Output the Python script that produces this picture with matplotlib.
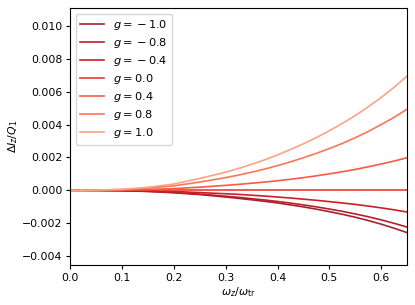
import numpy as np
import matplotlib
matplotlib.use("Agg")
import matplotlib.pyplot as plt

# omega_z / omega_tr sample points
x = [0.00, 0.05, 0.10, 0.15, 0.20, 0.25, 0.30, 0.325, 0.35, 0.375, 0.40, 0.425,
     0.45, 0.475, 0.50, 0.525, 0.55, 0.575, 0.60, 0.625, 0.65]

g_values = [-1.0, -0.8, -0.4, 0.0, 0.4, 0.8, 1.0]

dI_m10 = [0, -0.00001, -0.00003, -0.00007, -0.00015, -0.00026, -0.00041, -0.00049,
          -0.00058, -0.00067, -0.00077, -0.00089, -0.00101, -0.00115, -0.00130,
          -0.00146, -0.00164, -0.00184, -0.00206, -0.00231, -0.00258]
dI_m08 = [0, -0.00001, -0.00002, -0.00006, -0.00013, -0.00023, -0.00036, -0.00043,
          -0.00051, -0.00059, -0.00068, -0.00078, -0.00089, -0.00101, -0.00114,
          -0.00128, -0.00144, -0.00161, -0.00180, -0.00201, -0.00224]
dI_m04 = [0, 0.0, -0.00001, -0.00003, -0.00007, -0.00014, -0.00021, -0.00025,
          -0.00030, -0.00035, -0.00041, -0.00047, -0.00054, -0.00061, -0.00069,
          -0.00077, -0.00086, -0.00096, -0.00107, -0.00119, -0.00132]
dI_p00 = [0] * 21
dI_p04 = [0, 0.0, 0.00002, 0.00005, 0.00010, 0.00019, 0.00030, 0.00036,
          0.00043, 0.00050, 0.00058, 0.00067, 0.00077, 0.00088, 0.00100,
          0.00113, 0.00127, 0.00143, 0.00160, 0.00178, 0.00198]
dI_p08 = [0, 0.00001, 0.00004, 0.00013, 0.00027, 0.00050, 0.00077, 0.00093,
          0.00110, 0.00129, 0.00150, 0.00173, 0.00198, 0.00225, 0.00254,
          0.00285, 0.00320, 0.00358, 0.00400, 0.00444, 0.00494]
dI_p10 = [0, 0.00001, 0.00006, 0.00018, 0.00038, 0.00072, 0.00110, 0.00133,
          0.00158, 0.00185, 0.00215, 0.00248, 0.00283, 0.00321, 0.00362,
          0.00407, 0.00455, 0.00508, 0.00565, 0.00627, 0.00695]

series = [dI_m10, dI_m08, dI_m04, dI_p00, dI_p04, dI_p08, dI_p10]
colors = ["#a8212e", "#b81f2a", "#cc1f26", "#ec3b35", "#f75a45", "#fb7658", "#fca385"]


def g_label(g):
    # the empty group makes mathtext space the minus like a binary operator
    if g < 0:
        return f"$g = {{}}-{abs(g)}$"
    return f"$g = {g}$"


fig = plt.figure(figsize=(4.15, 3.05), dpi=100)
ax = fig.add_axes([0.169, 0.131, 0.812, 0.843])

for g, y, c in zip(g_values, series, colors):
    ax.plot(x, y, color=c, lw=1.2, label=g_label(g))

ax.set_xlim(0, 0.65)
ax.set_ylim(-0.00455, 0.0111)
ax.set_xticks([0.0, 0.1, 0.2, 0.3, 0.4, 0.5, 0.6])
ax.set_yticks([-0.004, -0.002, 0.0, 0.002, 0.004, 0.006, 0.008, 0.010])
ax.tick_params(labelsize=7.8, length=3, pad=2.5)
ax.set_xlabel(r"$\omega_z/\omega_{\rm tr}$", fontsize=7.8, labelpad=2)
ax.set_ylabel(r"$\Delta I_z/Q_1$", fontsize=7.8, labelpad=1.5)
ax.legend(loc="upper left", fontsize=8.2, handlelength=2.1, labelspacing=0.35)

fig.savefig("out.png", dpi=100)
